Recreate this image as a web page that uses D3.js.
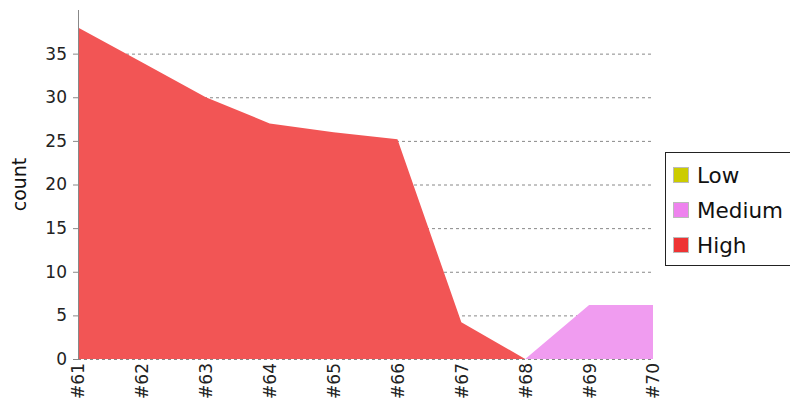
<!DOCTYPE html>
<html><head><meta charset="utf-8">
<script src="https://cdn.jsdelivr.net/npm/d3@7"></script>
<style>body{margin:0;background:#fff}svg{display:block}text{font-family:"DejaVu Sans",sans-serif}</style>
</head><body><svg id="c" width="790" height="405"></svg>
<script>
const categories = ["#61","#62","#63","#64","#65","#66","#67","#68","#69","#70"];
const lowValues    = [0,0,0,0,0,0,0,0,0,0];
const mediumValues = [0,0,0,0,0,0,0,0,6.2,6.2];
const highValues   = [38,34,30,27,26,25.2,4.2,0,0,0];
const seriesNames = ["Low","Medium","High"];
const yTicks = [0,5,10,15,20,25,30,35];

const areaColors = {Low:"#d4d42a", Medium:"#f09cf0", High:"#f25555"};
const legendColors = {Low:"#cccc00", Medium:"#ee82ee", High:"#ee3333"};

const svg = d3.select("#c");
const m = {l:78, r:653, t:10, b:359};
const x = d3.scalePoint().domain(categories).range([m.l, m.r]);
const y = d3.scaleLinear().domain([0,40]).range([m.b, m.t]);

const table = categories.map((c,i)=>({cat:c, Low:lowValues[i], Medium:mediumValues[i], High:highValues[i]}));
const stack = d3.stack().keys(seriesNames)(table);

// grid
svg.append("g").selectAll("line").data(yTicks).join("line")
  .attr("x1", m.l).attr("x2", m.r)
  .attr("y1", d=>y(d)+0.5).attr("y2", d=>y(d)+0.5)
  .attr("stroke","#888").attr("stroke-dasharray","3,3").attr("stroke-width",1);

// areas
const area = d3.area().x(d=>x(d.data.cat)).y0(d=>y(d[0])).y1(d=>y(d[1]));
svg.append("g").selectAll("path").data(stack).join("path")
  .attr("d", area).attr("fill", d=>areaColors[d.key])
  .attr("opacity", d=>d3.max(d, v=>v[1]-v[0])>0?1:0);

// y axis
const ya = svg.append("g").attr("transform",`translate(${m.l},0)`)
  .call(d3.axisLeft(y).tickValues(yTicks).tickSize(5).tickPadding(6));
ya.select(".domain").attr("d",`M0.5,${m.t}V${m.b}`).attr("stroke","#888");
ya.selectAll(".tick line").attr("stroke","#888");
ya.selectAll("text").attr("font-size",17).attr("fill","#222").attr("font-family","DejaVu Sans");

// x axis labels
const xa = svg.append("g").attr("transform",`translate(0,${m.b})`)
  .call(d3.axisBottom(x).tickSize(0).tickPadding(0));
xa.select(".domain").remove();
xa.selectAll("text")
  .attr("font-size",17).attr("fill","#222").attr("font-family","DejaVu Sans")
  .attr("transform","rotate(-90)").attr("text-anchor","end")
  .attr("x",-4).attr("y",0).attr("dy","0.35em");

// y label
svg.append("text").attr("transform",`translate(26,${(m.t+m.b)/2}) rotate(-90)`)
  .attr("text-anchor","middle").attr("font-size",19).attr("fill","#111").text("count");

// legend
const lg = svg.append("g");
lg.append("rect").attr("x",665.5).attr("y",152.5).attr("width",140).attr("height",113)
  .attr("fill","#fff").attr("stroke","#222");
seriesNames.forEach((s,i)=>{
  const cy = 175 + i*35;
  lg.append("rect").attr("x",673.5).attr("y",cy-7.5).attr("width",15).attr("height",15)
    .attr("fill",legendColors[s]).attr("stroke","#bbb");
  lg.append("text").attr("x",697).attr("y",cy).attr("dy","0.35em")
    .attr("font-size",21.5).attr("fill","#111").text(s);
});
</script></body></html>
